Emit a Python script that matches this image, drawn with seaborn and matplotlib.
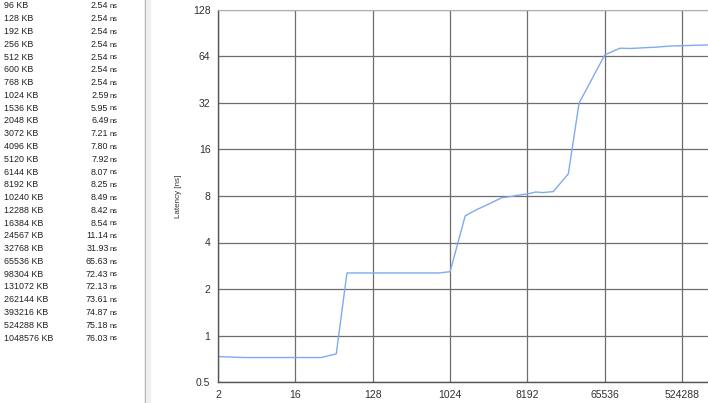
"""Memory latency vs block size: side table plus log-log line chart."""

import pandas as pd
import matplotlib.pyplot as plt
import seaborn as sns
from matplotlib.patches import Rectangle
from matplotlib.ticker import FixedLocator, FixedFormatter, NullLocator

# block sizes in KB and measured latency in ns
sizes_kb = [2, 4, 8, 16, 32, 48, 64, 96, 128, 192, 256, 512, 600, 768, 1024,
            1536, 2048, 3072, 4096, 5120, 6144, 8192, 10240, 12288, 16384,
            24567, 32768, 65536, 98304, 131072, 262144, 393216, 524288, 1048576]
latency_ns = [0.73, 0.72, 0.72, 0.72, 0.72, 0.76, 2.54, 2.54, 2.54, 2.54, 2.54,
              2.54, 2.54, 2.54, 2.59, 5.95, 6.49, 7.21, 7.80, 7.92, 8.07, 8.25,
              8.49, 8.42, 8.54, 11.14, 31.93, 65.63, 72.43, 72.13, 73.61, 74.87,
              75.18, 76.03]
table_start_kb = 96  # first row visible in the scrolled list

x_ticks = [2, 16, 128, 1024, 8192, 65536, 524288]
y_ticks = [0.5, 1, 2, 4, 8, 16, 32, 64, 128]
y_labels = ["0.5", "1", "2", "4", "8", "16", "32", "64", "128"]

W, H = 708, 403

sns.set_style("white")
plt.rcParams["font.family"] = ["Liberation Sans", "DejaVu Sans"]

df = pd.DataFrame({"size_kb": sizes_kb, "latency": latency_ns})

fig = plt.figure(figsize=(W / 100, H / 100), dpi=100)


def fx(px):
    return px / W


def fy(py):
    return 1 - py / H


# left list panel
first = sizes_kb.index(table_start_kb)
for i, (s, v) in enumerate(zip(sizes_kb[first:], latency_ns[first:])):
    y = fy(6 + i * 12.77)
    fig.text(fx(4), y, f"{s} KB", fontsize=6.4, color="#202020", va="center")
    fig.text(fx(108.5), y, f"{v:.2f}", fontsize=6.4, color="#202020",
             va="center", ha="right")
    fig.text(fx(109.5), y - 0.002, "ns", fontsize=5.4, color="#202020",
             va="center")

# panel separator
fig.patches.append(Rectangle((fx(144.5), 0), fx(1.2), 1, transform=fig.transFigure,
                             color="#a8a8a8", zorder=0))
fig.patches.append(Rectangle((fx(145.7), 0), fx(4), 1, transform=fig.transFigure,
                             color="#eef0ee", zorder=0))

ax = fig.add_axes([fx(218), 1 - 382 / H, fx(708 - 218), (382 - 10) / H])
sns.lineplot(data=df, x="size_kb", y="latency", ax=ax, color="#7faaf2",
             linewidth=1.0)

ax.set_xscale("log", base=2)
ax.set_yscale("log", base=2)
ax.set_xlim(2, 1048576)
ax.set_ylim(0.5, 128)

ax.xaxis.set_major_locator(FixedLocator(x_ticks))
ax.xaxis.set_major_formatter(FixedFormatter([str(t) for t in x_ticks]))
ax.xaxis.set_minor_locator(NullLocator())
ax.yaxis.set_major_locator(FixedLocator(y_ticks))
ax.yaxis.set_major_formatter(FixedFormatter(y_labels))
ax.yaxis.set_minor_locator(NullLocator())

ax.grid(True, color="#6e6e6e", linewidth=0.9)
ax.tick_params(axis="both", labelsize=7.5, colors="#303030", length=4,
               width=0.9, pad=1.5, direction="out")
ax.tick_params(axis="both", color="#6e6e6e")
ax.set_xlabel("")
ax.set_ylabel("")

for side in ["left", "bottom"]:
    ax.spines[side].set_color("#555555")
    ax.spines[side].set_linewidth(1)
ax.spines["top"].set_color("#b0b0b0")
ax.spines["right"].set_visible(False)

fig.text(fx(178), fy(196), "Latency [ns]", rotation=90, fontsize=5.8,
         color="#303030", ha="center", va="center")

fig.savefig("out.png", dpi=100)
